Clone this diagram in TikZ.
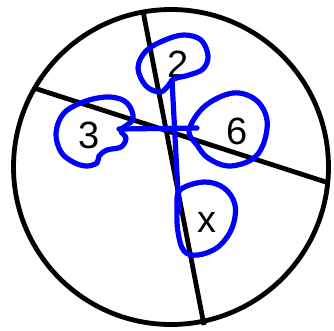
\documentclass[tikz,border=0pt]{standalone}
\usepackage{fontspec}
\setmainfont{Liberation Sans}
\begin{document}
\begin{tikzpicture}[x=1pt,y=-1pt,
  blk/.style={line width=4.8pt,black},
  blu/.style={line width=5.2pt,color={rgb,255:red,0;green,0;blue,255},line join=round,line cap=round},
  lbl/.style={font=\fontsize{38}{38}\selectfont,inner sep=0pt}]
\useasboundingbox (0,0) rectangle (334,330);
% circle and dividing lines
\coordinate (c) at (171,167);
\draw[blk] (c) circle[radius=157.5];
\coordinate (p1) at (143,11);
\coordinate (p2) at (204,325);
\coordinate (q1) at (34,88);
\coordinate (q2) at (329,183);
\draw[blk] (p1) -- (p2);
\draw[blk] (q1) -- (q2);
% labels
\node[lbl] (t2) at (178,64) {2};
\node[lbl] (t3) at (89,135) {3};
\node[lbl] (t6) at (237,131) {6};
\node[lbl] (tx) at (207,222) {x};
% blue loops
\draw[blu] plot[smooth cycle, tension=0.6] coordinates {(160,92) (146,86) (138,68) (146,51) (165,40) (184,35) (201,40) (208,56) (203,69) (189,75) (174,79) (168,86)};
\draw[blu] plot[smooth cycle, tension=0.6] coordinates {(56,133) (64,113) (86,101) (110,97) (127,103) (133,119) (121,130) (126,138) (121,147) (107,150) (99,156) (97,163) (86,166) (73,162) (61,152)};
\draw[blu] plot[smooth cycle, tension=0.6] coordinates {(189,130) (205,106) (233,93) (256,100) (267,120) (263,145) (251,160) (228,166) (208,158) (197,145)};
\draw[blu] plot[smooth cycle, tension=0.6] coordinates {(180,190) (204,182) (224,188) (235,205) (232,228) (218,247) (198,255) (184,251) (178,232) (177,208)};
% blue cross connectors
\coordinate (h1) at (119,129);
\coordinate (h2) at (197,128);
\coordinate (v1) at (172,80);
\coordinate (v2) at (179,212);
\draw[blu] (h1) -- (h2);
\draw[blu] (v1) -- (v2);
\end{tikzpicture}
\end{document}
